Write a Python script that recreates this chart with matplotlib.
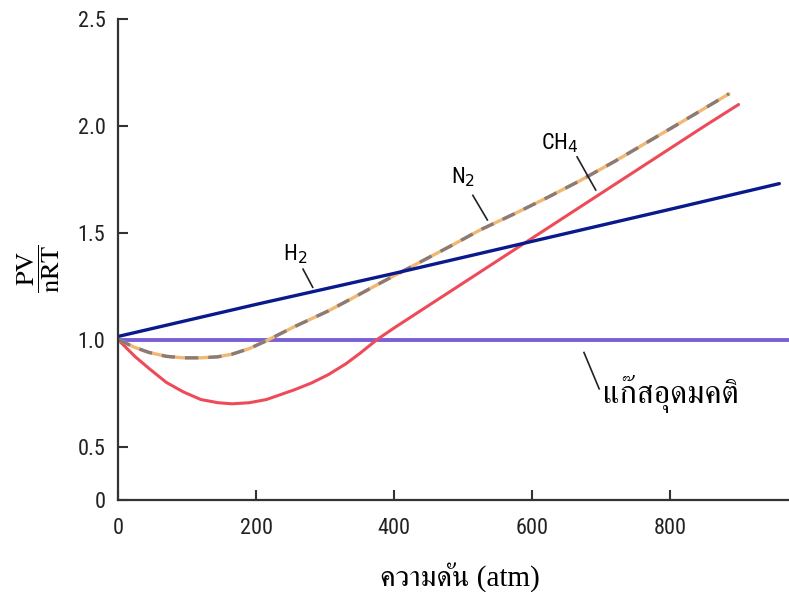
import matplotlib
matplotlib.use('Agg')
import matplotlib.pyplot as plt
import numpy as np

# pressure (atm) and PV/nRT
h2_p = [0, 200, 400, 600, 800, 958]
h2_z = [1.015, 1.165, 1.31, 1.46, 1.61, 1.73]

n2_p = [0, 25, 45, 70, 95, 120, 145, 165, 190, 215, 255, 305, 340, 380,
        430, 480, 525, 575, 622, 670, 720, 770, 820, 885]
n2_z = [1.0, 0.963, 0.94, 0.922, 0.915, 0.915, 0.92, 0.932, 0.958, 0.995,
        1.06, 1.135, 1.195, 1.265, 1.35, 1.435, 1.514, 1.59, 1.665, 1.745,
        1.835, 1.93, 2.025, 2.15]

ch4_p = [0, 25, 45, 70, 95, 120, 145, 165, 190, 215, 255, 280, 305, 330,
         350, 375, 400, 450, 500, 550, 600, 650, 700, 750, 800, 850, 899]
ch4_z = [1.0, 0.92, 0.865, 0.80, 0.755, 0.72, 0.705, 0.70, 0.705, 0.72,
         0.765, 0.797, 0.837, 0.887, 0.935, 1.0, 1.055, 1.16, 1.265, 1.37,
         1.475, 1.58, 1.685, 1.79, 1.895, 2.00, 2.10]

ideal_p = [0, 972]
ideal_z = [1.0, 1.0]

xticks = [0, 200, 400, 600, 800]
yticks = [0.25, 0.5, 1.0, 1.5, 2.0, 2.5]
ytick_labels = ['0', '0.5', '1.0', '1.5', '2.0', '2.5']

tick_font = ['Liberation Sans Narrow', 'Roboto Condensed', 'DejaVu Sans']
thai_font = ['Liberation Serif', 'Norasi', 'Kinnari', 'FreeSerif']

fig = plt.figure(figsize=(7.89, 5.92), dpi=100)
ax = fig.add_axes([0.1496, 0.1554, 0.8504, 0.8125])

line_kw = dict(solid_joinstyle='round', solid_capstyle='round')
ax.plot(ideal_p, ideal_z, color='#7b5fd8', lw=2.8)
ax.plot(ch4_p, ch4_z, color='#ee4b5a', lw=2.2, **line_kw)
ax.plot(n2_p, n2_z, color='#f2b873', lw=2.4, **line_kw)
ax.plot(n2_p, n2_z, color='#8a7a78', lw=2.4, dashes=(4, 3), dash_joinstyle='round')
ax.plot(h2_p, h2_z, color='#0a1a8c', lw=2.4, **line_kw)

ax.set_xlim(0, 972)
ax.set_ylim(0.25, 2.5)
ax.set_xticks(xticks)
ax.set_yticks(yticks)
ax.set_yticklabels(ytick_labels)
for lab in ax.get_xticklabels() + ax.get_yticklabels():
    lab.set_family(tick_font)
    lab.set_fontsize(16)
    lab.set_color('#222222')

ax.spines['top'].set_visible(False)
ax.spines['right'].set_visible(False)
for s in ['left', 'bottom']:
    ax.spines[s].set_linewidth(1.6)
    ax.spines[s].set_color('#333333')
ax.tick_params(axis='both', direction='in', length=7, width=1.5, color='#333333')
ax.tick_params(axis='x', pad=13)
ax.tick_params(axis='y', pad=9)

# curve labels with leader lines
ax.text(256, 1.40, 'H$_2$', fontsize=16, family=tick_font, ha='center', va='center')
ax.plot([268, 282], [1.33, 1.245], color='#222222', lw=1.2)
ax.text(500, 1.76, 'N$_2$', fontsize=16, family=tick_font, ha='center', va='center')
ax.plot([514, 535], [1.675, 1.56], color='#222222', lw=1.2)
ax.text(640, 1.92, 'CH$_4$', fontsize=16, family=tick_font, ha='center', va='center')
ax.plot([665, 692], [1.855, 1.70], color='#222222', lw=1.2)
ax.plot([675, 697], [0.94, 0.77], color='#222222', lw=1.2)
ax.text(703, 0.745, 'แก๊สอุดมคติ', fontsize=23, family=thai_font, ha='left', va='center')

fig.text(0.049, 0.546, r'$\dfrac{\mathrm{PV}}{\mathrm{nRT}}$', fontsize=19,
         family='serif', math_fontfamily='stix', rotation=90,
         ha='center', va='center')
fig.text(0.583, 0.025, 'ความดัน (atm)', fontsize=21, family=thai_font,
         ha='center', va='center')

fig.savefig('out.png', dpi=100)
